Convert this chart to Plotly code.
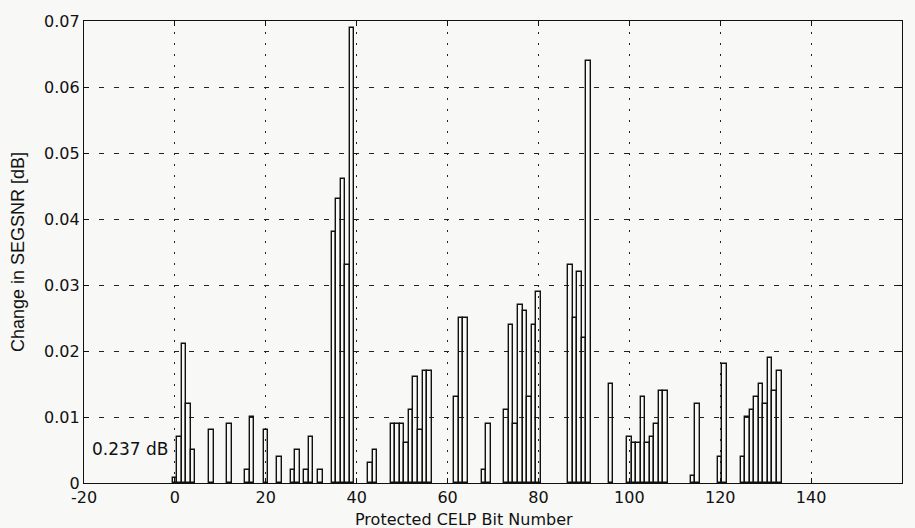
import plotly.graph_objects as go

# Protected CELP bit numbers and the SEGSNR change measured for each
bits = [0, 1, 2, 3, 4, 8, 12, 16, 17, 20, 23, 26, 27, 29, 30, 32,
        35, 36, 37, 38, 39, 43, 44, 48, 49, 50, 51, 52, 53, 54, 55, 56,
        62, 63, 64, 68, 69, 73, 74, 75, 76, 77, 78, 79, 80,
        87, 88, 89, 90, 91, 96, 100, 101, 102, 103, 104, 105, 106, 107, 108,
        114, 115, 120, 121, 125, 126, 127, 128, 129, 130, 131, 132, 133]
delta_segsnr = [0.0008, 0.007, 0.021, 0.012, 0.005, 0.008, 0.009, 0.002, 0.010, 0.008,
                0.004, 0.002, 0.005, 0.002, 0.007, 0.002,
                0.038, 0.043, 0.046, 0.033, 0.069, 0.003, 0.005,
                0.009, 0.009, 0.009, 0.006, 0.011, 0.016, 0.008, 0.017, 0.017,
                0.013, 0.025, 0.025, 0.002, 0.009,
                0.011, 0.024, 0.009, 0.027, 0.026, 0.013, 0.024, 0.029,
                0.033, 0.025, 0.032, 0.022, 0.064, 0.015,
                0.007, 0.006, 0.006, 0.013, 0.006, 0.007, 0.009, 0.014, 0.014,
                0.001, 0.012, 0.004, 0.018,
                0.004, 0.010, 0.011, 0.013, 0.015, 0.012, 0.019, 0.014, 0.017]

x_ticks = [-20, 0, 20, 40, 60, 80, 100, 120, 140, 160]
x_tick_labels = ["-20", "0", "20", "40", "60", "80", "100", "120", "140", "160"]
y_ticks = [0, 0.01, 0.02, 0.03, 0.04, 0.05, 0.06, 0.07]
y_tick_labels = ["0", "0.01", "0.02", "0.03", "0.04", "0.05", "0.06", "0.07"]

baseline_note = "0.237 dB"

bg = "#f8f8f6"
ink = "#111"
tick_font = dict(family="DejaVu Sans", size=16, color=ink)

fig = go.Figure()
fig.add_trace(go.Bar(
    x=bits, y=delta_segsnr, width=1,
    marker=dict(color="rgba(0,0,0,0)", line=dict(color=ink, width=1.4)),
    showlegend=False,
))

fig.add_annotation(x=-18.6, y=0.0052, xref="x", yref="y", text=baseline_note,
                   showarrow=False, xanchor="left", yanchor="middle",
                   font=dict(family="DejaVu Sans", size=17, color=ink))

fig.add_annotation(x=0.465, y=-0.079, xref="paper", yref="paper",
                   text="Protected CELP Bit Number", showarrow=False,
                   xanchor="center", yanchor="middle",
                   font=dict(family="DejaVu Sans", size=16, color=ink))

fig.update_layout(
    width=915, height=528,
    margin=dict(l=84, r=13, t=17, b=45),
    paper_bgcolor=bg, plot_bgcolor=bg,
    bargap=0,
    xaxis=dict(
        range=[-20, 160], tickvals=x_ticks, ticktext=x_tick_labels,
        showgrid=True, gridcolor="#222", gridwidth=1, griddash="2px,9px",
        showline=True, linecolor=ink, linewidth=1.4, mirror="ticks",
        ticks="inside", ticklen=5, tickcolor=ink,
        tickfont=tick_font, zeroline=False,
    ),
    yaxis=dict(
        range=[0, 0.07], tickvals=y_ticks, ticktext=y_tick_labels,
        showgrid=True, gridcolor="#222", gridwidth=1, griddash="5px,10px",
        showline=True, linecolor=ink, linewidth=1.4, mirror="ticks",
        ticks="inside", ticklen=5, tickcolor=ink,
        tickfont=tick_font, zeroline=False,
        title=dict(text="Change in SEGSNR [dB]",
                   font=dict(family="Liberation Sans Narrow, Liberation Sans", size=18, color=ink),
                   standoff=14),
    ),
)

fig.write_html("out.html")
